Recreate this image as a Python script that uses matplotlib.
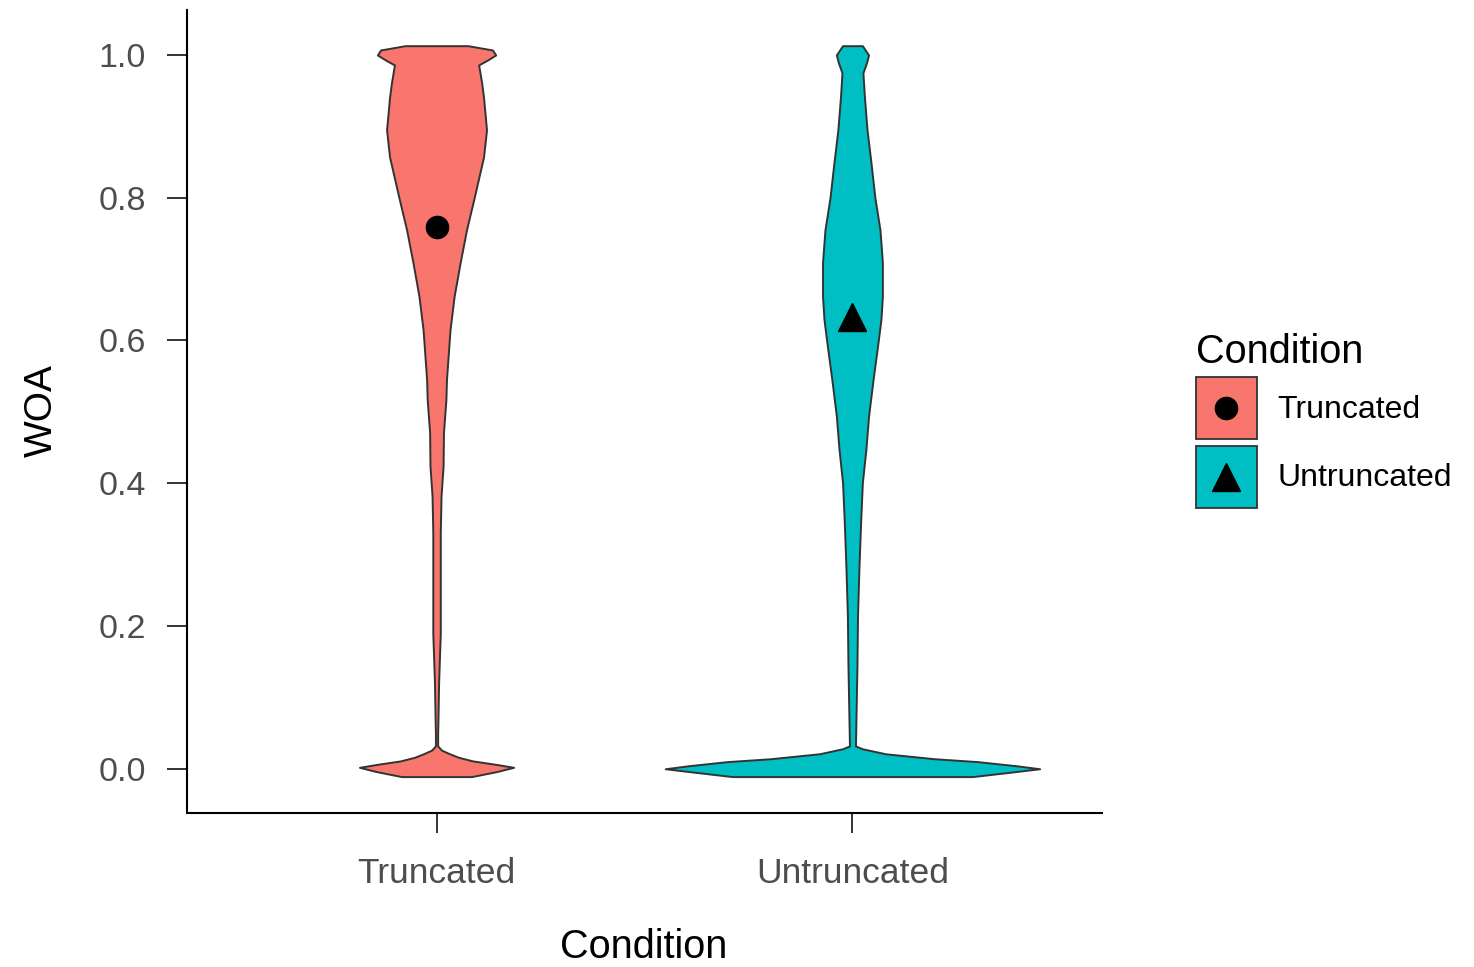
import numpy as np
import matplotlib
matplotlib.use("Agg")
import matplotlib.pyplot as plt
from matplotlib.patches import Patch, Rectangle
from matplotlib.lines import Line2D

plt.rcParams['font.family'] = ['Liberation Sans', 'DejaVu Sans']

# conditions and their group means
conditions = ['Truncated', 'Untruncated']
means = [0.759, 0.633]
fills = ['#F8766D', '#00BFC4']
markers = ['o', '^']
marker_sizes = [16, 20]

# kernel density profiles (scaled so the largest density is 1)
trunc_y = [-0.011, -0.004, 0.002, 0.006, 0.011, 0.016, 0.021, 0.026, 0.032,
           0.050, 0.074, 0.120, 0.190, 0.331, 0.382, 0.424, 0.471, 0.517,
           0.545, 0.615, 0.662, 0.709, 0.755, 0.800, 0.857, 0.895, 0.941,
           0.961, 0.986, 0.993, 1.000, 1.007, 1.013]
trunc_d = [0.187, 0.321, 0.412, 0.321, 0.193, 0.118, 0.070, 0.027, 0.006,
           0.006, 0.008, 0.011, 0.020, 0.020, 0.024, 0.035, 0.037, 0.050,
           0.053, 0.072, 0.094, 0.126, 0.160, 0.201, 0.251, 0.267, 0.251,
           0.241, 0.225, 0.273, 0.316, 0.299, 0.168]

untrunc_y = [-0.011, -0.004, 0.000, 0.004, 0.010, 0.014, 0.021, 0.028, 0.032,
             0.074, 0.144, 0.214, 0.284, 0.354, 0.401, 0.448, 0.494, 0.545,
             0.592, 0.629, 0.662, 0.709, 0.755, 0.800, 0.849, 0.895, 0.941,
             0.975, 0.989, 1.000, 1.013]
untrunc_d = [0.642, 0.872, 1.000, 0.882, 0.668, 0.439, 0.176, 0.053, 0.016,
             0.019, 0.024, 0.027, 0.035, 0.045, 0.053, 0.072, 0.086, 0.110,
             0.134, 0.152, 0.160, 0.160, 0.147, 0.120, 0.099, 0.078, 0.064,
             0.056, 0.075, 0.086, 0.053]

profiles = [(trunc_y, trunc_d), (untrunc_y, untrunc_d)]
half_width = 0.45


class KeyHandler:
    """Legend key: filled box with the mean marker centred on it."""

    def __init__(self, color, marker, size):
        self.color = color
        self.marker = marker
        self.size = size

    def legend_artist(self, legend, orig_handle, fontsize, handlebox):
        x0, y0 = -handlebox.xdescent, -handlebox.ydescent
        w, h = handlebox.width, handlebox.height
        tr = handlebox.get_transform()
        rect = Rectangle((x0, y0), w, h, facecolor=self.color,
                         edgecolor='#333333', linewidth=1.3, transform=tr)
        mk = Line2D([x0 + w / 2], [y0 + h / 2], marker=self.marker,
                    color='black', linestyle='none', markersize=self.size,
                    transform=tr)
        handlebox.add_artist(rect)
        handlebox.add_artist(mk)
        return rect


fig = plt.figure(figsize=(14.74, 9.67), dpi=100)
ax = fig.add_axes([187 / 1474, 1 - 813 / 967, (1102 - 187) / 1474, (813 - 10) / 967])

for i, (ys, ds) in enumerate(profiles):
    x0 = i + 1
    ys = np.array(ys)
    hw = np.array(ds) * half_width
    ax.fill_betweenx(ys, x0 - hw, x0 + hw, facecolor=fills[i],
                     edgecolor='#333333', linewidth=1.4, zorder=2)
    ax.plot([x0], [means[i]], marker=markers[i], color='black',
            markersize=marker_sizes[i], linestyle='none', zorder=3)

ax.set_xlim(0.4, 2.6)
ax.set_ylim(-0.062, 1.063)
ax.set_xticks([1, 2])
ax.set_xticklabels(conditions)
ax.set_yticks([0.0, 0.2, 0.4, 0.6, 0.8, 1.0])
ax.set_yticklabels(['0.0', '0.2', '0.4', '0.6', '0.8', '1.0'])

for side in ['top', 'right']:
    ax.spines[side].set_visible(False)
for side in ['left', 'bottom']:
    ax.spines[side].set_linewidth(1.5)
    ax.spines[side].set_color('black')

ax.tick_params(axis='both', length=14.5, width=1.4, color='#333333',
               labelcolor='#4D4D4D')
ax.tick_params(axis='y', pad=15, labelsize=24.5)
ax.tick_params(axis='x', pad=17, labelsize=25.5)

fig.text(644 / 1474, 1 - 958 / 967, 'Condition', fontsize=28.5,
         ha='center', va='baseline', color='black')
fig.text(42 / 1474, 1 - 411 / 967, 'WOA', fontsize=28, rotation=90,
         ha='center', va='center', color='black')

handles = [Patch(facecolor=c) for c in fills]
hmap = {h: KeyHandler(fills[i], markers[i], marker_sizes[i])
        for i, h in enumerate(handles)}

leg = fig.legend(handles, conditions, handler_map=hmap,
                 loc='upper left', bbox_to_anchor=(1196 / 1474, 1 - 333 / 967),
                 frameon=False, fontsize=23, title='Condition', title_fontsize=28.5,
                 handlelength=1.9, handleheight=2.61, labelspacing=0.2,
                 handletextpad=0.65, borderpad=0, borderaxespad=0,
                 alignment='left')

fig.savefig('out.png', dpi=100)
